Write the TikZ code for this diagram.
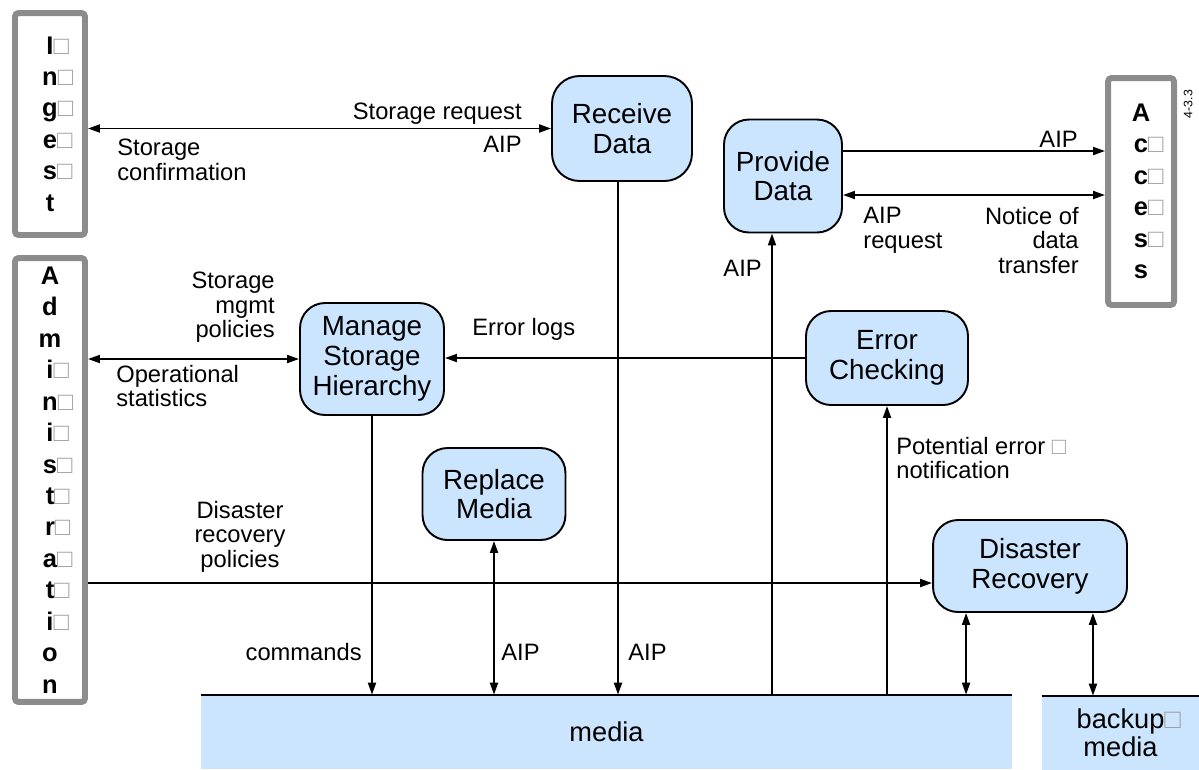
\documentclass[tikz,border=0pt]{standalone}
\usepackage{fontspec}
\setmainfont{Liberation Sans}
\usetikzlibrary{arrows.meta,calc,positioning}
\definecolor{procblue}{HTML}{CCE5FF}
\definecolor{entgray}{HTML}{8C8C8C}
\definecolor{boxgray}{HTML}{A0A0A0}
\newcommand{\glyphbox}{\textcolor{boxgray}{\mdseries □}}
\newcommand{\tailbox}{\rlap{\glyphbox}}

\begin{document}
\begin{tikzpicture}[
    x=0.02cm, y=-0.02cm,
    process/.style={draw, line width=1.1pt, rounded corners=0.5cm, fill=procblue, align=center, inner sep=0pt, font=\fontsize{15.8}{16.9}\selectfont},
    entity/.style={draw=entgray, line width=3.4pt, rounded corners=2pt, align=center, inner sep=0pt, font=\fontsize{14.5}{17.9}\selectfont\bfseries},
    storebar/.style={fill=procblue, inner sep=0pt, align=center, font=\fontsize{15.5}{15.8}\selectfont},
    flowlabel/.style={inner sep=0pt, font=\fontsize{13.5}{13.9}\selectfont},
    arrow/.style={->, >={Triangle[length=2.4mm,width=1.6mm]}, line width=1.1pt},
    biarrow/.style={<->, >={Triangle[length=2.4mm,width=1.6mm]}, line width=1.1pt},
    rule/.style={line width=1.1pt}
]
\useasboundingbox (0,0) rectangle (1199,769);

% External entities
\node[entity, minimum width=1.4cm, minimum height=4.44cm] (ingest) at (50,124)
    {I\tailbox\\n\tailbox\\g\tailbox\\e\tailbox\\s\tailbox\\t};
\node[entity, minimum width=1.4cm, minimum height=8.88cm] (admin) at (50,480)
    {A\\d\\m\\i\tailbox\\n\tailbox\\i\tailbox\\s\tailbox\\t\tailbox\\r\tailbox\\a\tailbox\\t\tailbox\\i\tailbox\\o\\n};
\node[entity, minimum width=1.32cm, minimum height=4.54cm] (access) at (1141,191.5)
    {A\\c\tailbox\\c\tailbox\\e\tailbox\\s\tailbox\\s};
\node[rotate=90, inner sep=0pt, font=\fontsize{7}{8}\selectfont] (figno) at (1188,104) {4-3.3};

% Processes
\node[process, minimum width=2.8cm, minimum height=2.1cm, rounded corners=0.55cm] (recv) at (622,128.5) {Receive\\Data};
\node[process, minimum width=2.36cm, minimum height=2.26cm] (prov) at (783,176) {Provide\\Data};
\node[process, minimum width=2.88cm, minimum height=2.24cm] (mgmt) at (372,359) {Manage\\Storage\\Hierarchy};
\node[process, minimum width=2.86cm, minimum height=1.84cm] (repl) at (494,494) {Replace\\Media};
\node[process, minimum width=3.24cm, minimum height=1.88cm] (err) at (887,358) {Error\\Checking};
\node[process, minimum width=3.88cm, minimum height=1.84cm] (dr) at (1030,566) {Disaster\\Recovery};

% Storage
\node[storebar, minimum width=16.22cm, minimum height=1.48cm] (media) at (606.5,732) {media};
\node[storebar, minimum width=3.14cm, minimum height=1.48cm] (backup) at (1120.5,733) {backup\tailbox\\media};
\draw[rule] (media.north west) -- (media.north east);
\draw[rule] (backup.north west) -- (backup.north east);

% Labels
\node[flowlabel, anchor=north east] (storreq) at (522,103) {Storage request};
\node[flowlabel, anchor=north east] (aipin) at (522,136) {AIP};
\node[flowlabel, anchor=north west, align=left] (storconf) at (117,139) {Storage\\confirmation};
\node[flowlabel, anchor=north east] (aipout) at (1078,131) {AIP};
\node[flowlabel, anchor=north west, align=left] (aipreq) at (863,207) {AIP\\request};
\node[flowlabel, anchor=north east, align=right] (notice) at (1079,207) {Notice of\\data\\transfer};
\node[flowlabel, anchor=north east] (aipup) at (762,260) {AIP};
\node[flowlabel, anchor=north east, align=right] (mgmtpol) at (275,272) {Storage\\mgmt\\policies};
\node[flowlabel, anchor=north west, align=left] (opstat) at (116,365) {Operational\\statistics};
\node[flowlabel, anchor=north west] (errlogs) at (472,318) {Error logs};
\node[flowlabel, anchor=north east] (cmds) at (362,643) {commands};
\node[flowlabel, anchor=north west] (aiprepl) at (501,644) {AIP};
\node[flowlabel, anchor=north west] (aiprecv) at (628,644) {AIP};
\node[flowlabel, anchor=north west, align=left] (poterr) at (896,437) {Potential error \glyphbox\\notification};
\node[flowlabel, anchor=north, align=center] (drpol) at (240,501) {Disaster\\recovery\\policies};

% Horizontal flows
\draw[biarrow] (ingest.east |- recv.west) -- (recv.west);
\draw[arrow] ([yshift=0.5cm]prov.east) -- ([yshift=0.5cm]prov.east -| access.west);
\draw[biarrow] ([yshift=-0.38cm]prov.east) -- ([yshift=-0.38cm]prov.east -| access.west);
\draw[biarrow] (admin.east |- mgmt.west) -- (mgmt.west);
\draw[arrow] (err.west) -- (err.west -| mgmt.east);
\coordinate (drin) at ([yshift=-0.34cm]dr.west);
\draw[arrow] (admin.east |- drin) -- (drin);

% Vertical flows
\draw[arrow] (mgmt.south) -- (mgmt.south |- media.north);
\draw[biarrow] (repl.south) -- (repl.south |- media.north);
\coordinate (recvout) at ([xshift=-0.08cm]recv.south);
\draw[arrow] (recvout) -- (recvout |- media.north);
\coordinate (provin) at ([xshift=-0.22cm]prov.south);
\draw[arrow] (provin |- media.north) -- (provin);
\draw[arrow] (err.south |- media.north) -- (err.south);
\coordinate (drl) at ([xshift=0.68cm]dr.south west);
\draw[biarrow] (drl) -- (drl |- media.north);
\coordinate (drr) at ([xshift=-0.7cm]dr.south east);
\draw[biarrow] (drr) -- (drr |- backup.north);

\end{tikzpicture}
\end{document}
